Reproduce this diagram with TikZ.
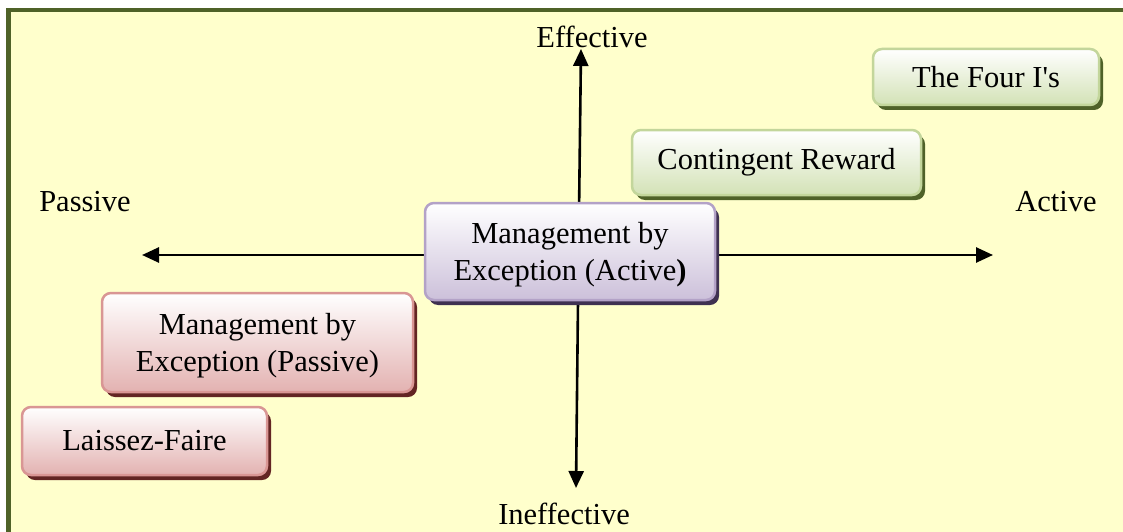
\documentclass[tikz,border=0pt]{standalone}
\usepackage{fontspec}
\setmainfont{Liberation Serif}[Ligatures=TeXOff]
\usetikzlibrary{arrows.meta,shadows}

\definecolor{pagebg}{HTML}{FFFFCC}
\definecolor{frameolive}{HTML}{4F6228}
\definecolor{greenedge}{HTML}{C3D69B}
\definecolor{greenfill}{HTML}{D3E2B6}
\definecolor{greenshadow}{HTML}{4F6228}
\definecolor{violetedge}{HTML}{B3A2C7}
\definecolor{violetfill}{HTML}{CCC0DA}
\definecolor{violetshadow}{HTML}{3F3151}
\definecolor{roseedge}{HTML}{D99694}
\definecolor{rosefill}{HTML}{E3B2B1}
\definecolor{roseshadow}{HTML}{632523}

\tikzset{
  every node/.style={font=\fontsize{30.5}{37}\selectfont, text=black},
  stylebox/.style={rounded corners=9pt, line width=2.5pt, align=center,
    inner sep=0pt},
  greenbox/.style={stylebox, draw=greenedge, top color=white, bottom color=greenfill,
    drop shadow={shadow xshift=4pt, shadow yshift=-5pt, fill=greenshadow, opacity=1}},
  violetbox/.style={stylebox, draw=violetedge, top color=white, bottom color=violetfill,
    drop shadow={shadow xshift=4pt, shadow yshift=-5pt, fill=violetshadow, opacity=1}},
  rosebox/.style={stylebox, draw=roseedge, top color=white, bottom color=rosefill,
    drop shadow={shadow xshift=4pt, shadow yshift=-5pt, fill=roseshadow, opacity=1}},
  axis/.style={line width=2.6pt, -{Triangle[length=17pt,width=15pt]}},
  axislabel/.style={inner sep=0pt}
}

\begin{document}
\begin{tikzpicture}[x=1pt, y=-1pt]
  % canvas and frame (only top and left edges carry the olive rule)
  \useasboundingbox (0,0) rectangle (1123,532);
  \fill[pagebg] (6,8) rectangle (1135,545);
  \fill[frameolive] (6,8) rectangle (1135,12.5);
  \fill[frameolive] (6,8) rectangle (10.5,545);

  % axes from the centre
  \coordinate (c) at (578.5,255);
  \coordinate (vt) at (581,49);
  \coordinate (vb) at (576,488);
  \coordinate (hl) at (142,255);
  \coordinate (hr) at (993,255);
  \draw[axis] (c) -- (vt);
  \draw[axis] (c) -- (vb);
  \draw[axis] (c) -- (hl);
  \draw[axis] (c) -- (hr);

  % axis labels
  \node[axislabel] (eff)  at (592,37)   {Effective};
  \node[axislabel] (ineff) at (564,514) {Ineffective};
  \node[axislabel] (pas)  at (85,202)   {Passive};
  \node[axislabel] (act)  at (1056,202) {Active};

  % leadership styles
  \node[greenbox, minimum width=226pt, minimum height=56pt] (four) at (986,77) {The Four I's};
  \node[greenbox, minimum width=289pt, minimum height=65pt] (cr) at (776.5,162.5) {Contingent Reward};
  \node[violetbox, minimum width=290pt, minimum height=97pt] (mbea) at (570,251.5)
    {\rule{0pt}{28pt}Management by\\Exception (Active\textbf{)}};
  \node[rosebox, minimum width=311pt, minimum height=99pt] (mbep) at (257.5,342.5)
    {\rule{0pt}{28pt}Management by\\Exception (Passive)};
  \node[rosebox, minimum width=245pt, minimum height=68pt] (lf) at (144.5,441) {Laissez-Faire};
\end{tikzpicture}
\end{document}
